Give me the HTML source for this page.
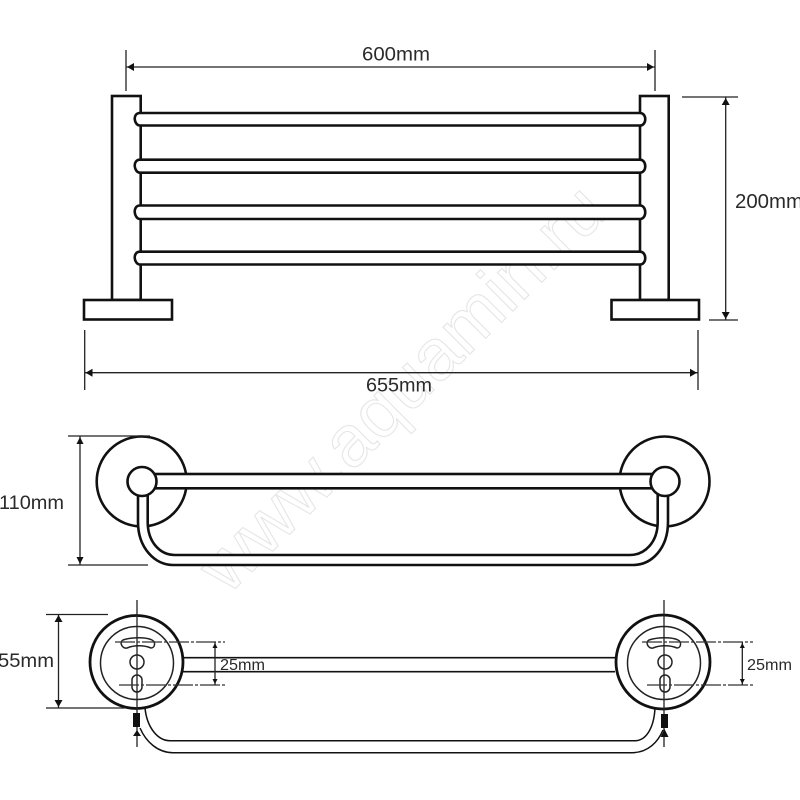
<!DOCTYPE html>
<html><head><meta charset="utf-8"><style>
html,body{margin:0;padding:0;background:#fff}
svg{display:block;filter:blur(.3px)}
text{font-family:"Liberation Sans",sans-serif;fill:#2a2a2a}
.m{stroke:#111;stroke-width:2.6;fill:#fff}
.n{stroke:#111;stroke-width:2.6;fill:none}
.d{stroke:#222;stroke-width:1.3;fill:none}
.t{stroke:#222;stroke-width:1.1;fill:none}
.c{stroke:#333;stroke-width:1.2;fill:none;stroke-dasharray:20 2 3 2}
.a{fill:#111;stroke:none}
</style></head><body>
<svg width="800" height="800" viewBox="0 0 800 800" xmlns="http://www.w3.org/2000/svg">
<rect width="800" height="800" fill="#fff"/>
<text x="228" y="596" transform="rotate(-45 228 596)" font-size="72" textLength="540" lengthAdjust="spacingAndGlyphs" style="fill:#fff;stroke:#e6e6e6;stroke-width:1.1">www.aquamin.ru</text>

<!-- TOP VIEW -->
<g>
<rect class="n" x="112" y="96" width="28.7" height="204" style="fill:#fff"/>
<rect class="n" x="640" y="96" width="28.7" height="204" style="fill:#fff"/>
<rect class="m" x="84" y="300" width="88" height="19.5"/>
<rect class="m" x="611.5" y="300" width="87.5" height="19.5"/>
<path class="m" d="M141 113H640C646 113 646 125.5 640 125.5H141C133 125.5 133 113 141 113Z" style="stroke:none"/>
<path class="m" d="M141 159.7H640C646 159.7 646 172.7 640 172.7H141C133 172.7 133 159.7 141 159.7Z" style="stroke:none"/>
<path class="m" d="M141 205.5H640C646 205.5 646 219 640 219H141C133 219 133 205.5 141 205.5Z" style="stroke:none"/>
<path class="m" d="M141 251.7H640C646 251.7 646 264.5 640 264.5H141C133 264.5 133 251.7 141 251.7Z" style="stroke:none"/>
<path class="n" d="M140 113H640C647 113 647 125.5 640 125.5H140C134 125.5 132 113 140 113Z" fill="none"/>
<path class="n" d="M140 159.7H640C647 159.7 647 172.7 640 172.7H140C134 172.7 132 159.7 140 159.7Z"/>
<path class="n" d="M140 205.5H640C647 205.5 647 219 640 219H140C134 219 132 205.5 140 205.5Z"/>
<path class="n" d="M140 251.7H640C647 251.7 647 264.5 640 264.5H140C134 264.5 132 251.7 140 251.7Z"/>
</g>
<!-- top dims -->
<path class="d" d="M126 50V91M655 50V91M126 67H655M682 97H738M709 320H738M725.7 97V320M84.7 330V390M698 330V390M84.7 372.7H698"/>
<path class="a" d="M127 67l7-4v8zM654 67l-7-4v8zM725.7 98l-4 7h8zM725.7 319l-4-7h8zM85.5 372.7l7-4v8zM697 372.7l-7-4v8z"/>
<text x="362" y="60.5" font-size="19" textLength="68" lengthAdjust="spacingAndGlyphs">600mm</text>
<text x="735" y="208" font-size="20" textLength="68" lengthAdjust="spacingAndGlyphs">200mm</text>
<text x="366" y="391.5" font-size="19" textLength="66" lengthAdjust="spacingAndGlyphs">655mm</text>

<!-- MIDDLE VIEW -->
<circle class="n" cx="141.7" cy="481.5" r="45"/>
<circle class="n" cx="664.5" cy="481.5" r="45"/>
<path d="M138 495V522C138 548 155 565 173 565H633C652 565 668 548 668 522V495H657.7V522C657.7 542 645 555 630 555H175C160 555 147.7 542 147.7 522V495Z" fill="#fff" stroke="#111" stroke-width="2.6"/>
<rect class="m" x="150" y="474" width="506" height="14.3"/>
<circle class="m" cx="142" cy="481.5" r="14.5"/>
<circle class="m" cx="665" cy="481.5" r="14.5"/>
<path class="d" d="M68 436H150M68 565H148M80 436V565"/>
<path class="a" d="M80 437l-3.5 7h7zM80 564l-3.5-7h7z"/>
<text x="-1" y="509" font-size="19" textLength="65" lengthAdjust="spacingAndGlyphs">110mm</text>

<!-- BOTTOM VIEW -->
<path class="n" style="stroke-width:1.6" d="M183 657.7H615M183 671.7H615"/>
<path class="n" style="stroke-width:1.5" d="M145 708C147 728 158 740.7 170 740.7H635C646 740.7 654 728 655 708M140 728C146 742 158 752.7 173 752.7H632C648 752.7 658 742 663 730"/>
<circle class="n" cx="136.5" cy="662" r="46.5" style="stroke-width:2.8"/>
<circle class="n" cx="663" cy="662" r="47" style="stroke-width:2.8"/>
<circle class="t" cx="137" cy="663" r="36.5" style="stroke-width:1.5"/>
<circle class="t" cx="664" cy="663" r="36.5" style="stroke-width:1.5"/>
<path class="t" style="stroke-width:1.5" d="M123 640C132 637 146 637 152 640C156 642 155 648 151 648C144 645 134 645 127 648C122 649 119 642 123 640Z"/>
<path class="t" style="stroke-width:1.5" d="M649 640C658 637 672 637 678 640C682 642 681 648 677 648C670 645 660 645 653 648C648 649 645 642 649 640Z"/>
<rect class="t" x="130" y="655" width="14" height="14" rx="7" style="stroke-width:1.5"/>
<rect class="t" x="658" y="655" width="14" height="14" rx="7" style="stroke-width:1.5"/>
<rect class="t" x="132" y="675" width="10" height="17" rx="5" style="stroke-width:1.5"/>
<rect class="t" x="660" y="675" width="10" height="17" rx="5" style="stroke-width:1.5"/>
<path class="d" d="M137 600V747M664 600V747"/>
<path class="c" d="M115 642H225M119 685H225M642 642H753M647 685H753"/>
<rect x="133" y="713" width="7" height="14" fill="#111"/>
<rect x="661" y="714" width="7" height="14" fill="#111"/>
<path class="a" d="M137 730l-4 6h8zM664.5 729l-4 8h8z"/>
<path class="d" d="M46 614.5H108M46 708H125M58.5 614.5V708M215 642V685M742.3 642V685"/>
<path class="a" d="M58.5 615l-4 7h8zM58.5 707l-4-7h8zM215 643l-2.500 5h5zM215 684l-2.500-5h5zM742.3 643l-2.500 5h5zM742.3 684l-2.500-5h5z"/>
<text x="-2" y="667" font-size="19" textLength="56" lengthAdjust="spacingAndGlyphs">55mm</text>
<text x="220" y="670" font-size="16" textLength="45" lengthAdjust="spacingAndGlyphs">25mm</text>
<text x="747" y="670" font-size="16" textLength="45" lengthAdjust="spacingAndGlyphs">25mm</text>
</svg>
</body></html>
